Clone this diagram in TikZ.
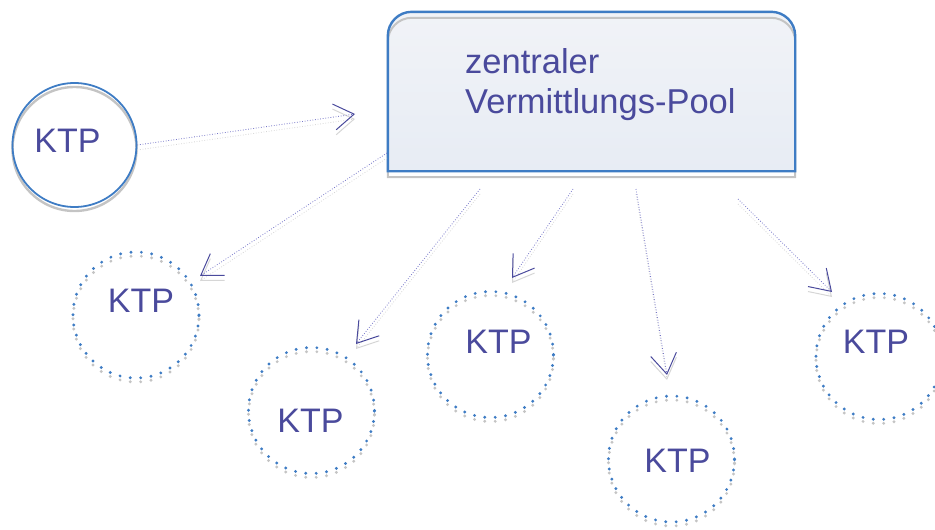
\documentclass[tikz,border=0pt]{standalone}
\usepackage{fontspec}
\setmainfont{Liberation Sans}
\usetikzlibrary{arrows.meta,calc}
\definecolor{ktptext}{RGB}{74,74,156}
\definecolor{ktpblue}{RGB}{62,124,196}
\definecolor{linkcol}{RGB}{118,118,200}
\definecolor{shadowgray}{RGB}{196,196,196}
\definecolor{pooltop}{RGB}{241,243,247}
\definecolor{poolbot}{RGB}{231,236,244}

\tikzset{
    ktpsolid/.style={circle, minimum size=124pt, inner sep=0pt, draw=ktpblue, line width=1.8pt},
    ktpring/.style={circle, minimum size=126pt, inner sep=0pt, draw=ktpblue, line width=3.2pt, line cap=round, dash pattern=on 0pt off 10.4pt},
    ktplabel/.style={text=ktptext, font=\fontsize{34}{38}\selectfont, inner sep=0pt},
    link/.style={draw=linkcol, line width=0.8pt, dash pattern=on 0.8pt off 1.8pt, -{Straight Barb[length=20pt,width=26pt,line width=1pt,color=ktptext]}},
    linkshadow/.style={draw=shadowgray!70, line width=0.8pt, dash pattern=on 0.8pt off 1.8pt, -{Straight Barb[length=20pt,width=26pt,line width=1pt]}, transform canvas={yshift=-5pt}}
}

\begin{document}
\begin{tikzpicture}[x=1pt, y=-1pt]
        \useasboundingbox (0,0) rectangle (935,530);

        \node[minimum width=407pt, minimum height=159pt, inner sep=0pt] (pool) at (591.5,91.5) {};
        \shade[top color=pooltop, bottom color=poolbot] (pool.south west) [rounded corners=24pt] -- (pool.north west) -- (pool.north east) [sharp corners] -- (pool.south east) -- cycle;
        \draw[shadowgray, line width=2pt] ($(pool.south west)+(0,6)$) [rounded corners=24pt] -- ($(pool.north west)+(0,6)$) -- ($(pool.north east)+(0,6)$) [sharp corners] -- ($(pool.south east)+(0,6)$) -- cycle;
        \draw[ktpblue, line width=2.4pt] (pool.south west) [rounded corners=24pt] -- (pool.north west) -- (pool.north east) [sharp corners] -- (pool.south east) -- cycle;
        \node[ktplabel, font=\fontsize{34.5}{40}\selectfont, align=left, anchor=base west] (pooltext) at (465,113) {zentraler\\Vermittlungs-Pool};

        \node[ktpsolid, draw=shadowgray, line width=2.4pt] at (74.5,149) {};
        \node[ktpsolid] (k0) at (74.5,145) {};
        \node[ktplabel] (l0) at ($(k0)+(-7,-4)$) {KTP};

        \foreach \n/\x/\y/\dx/\dy in {1/136/315/5/-14, 2/311.5/410.5/-1/10, 3/490.5/354.5/8/-13, 4/671.5/459/6/2, 5/879/356.5/-3/-15}{
            \node[ktpring, draw=shadowgray] at (\x,\y+4) {};
            \node[ktpring] (k\n) at (\x,\y) {};
            \node[ktplabel] (l\n) at (\x+\dx,\y+\dy) {KTP};
        }

        \coordinate (t0) at (355,114);
        \coordinate (s1) at (387,153);
        \coordinate (t1) at (200,276);
        \coordinate (s2) at (480,189);
        \coordinate (t2) at (356,344);
        \coordinate (s3) at (573,189);
        \coordinate (t3) at (512,278);
        \coordinate (s4) at (636,189);
        \coordinate (t4) at (667,375);
        \coordinate (s5) at (738,199);
        \coordinate (t5) at (832,292);

        \draw[linkshadow] (k0.east) -- (t0);
        \draw[link] (k0.east) -- (t0);
        \foreach \n in {1,...,5}{
            \draw[linkshadow] (s\n) -- (t\n);
            \draw[link] (s\n) -- (t\n);
        }
\end{tikzpicture}
\end{document}
